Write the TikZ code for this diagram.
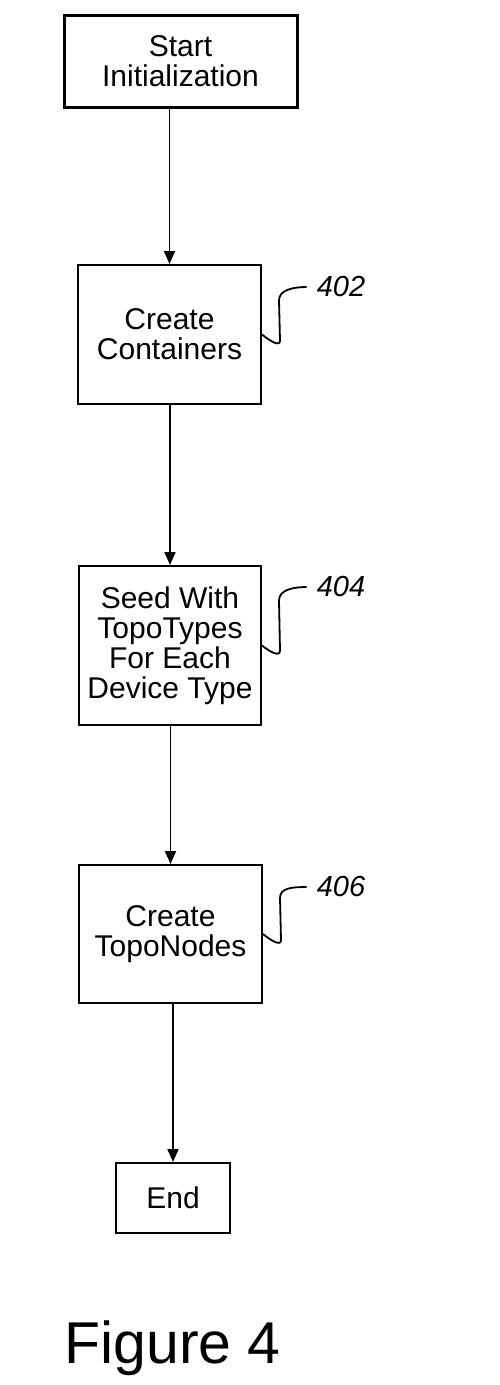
\documentclass[tikz,border=0pt]{standalone}
\usepackage{fontspec}
\setmainfont{Liberation Sans}
\usetikzlibrary{arrows.meta}
\begin{document}
\begin{tikzpicture}[x=1pt, y=-1pt,
  box/.style={draw, line width=2pt, inner sep=0pt, align=center, font=\fontsize{30}{30}\selectfont},
  flow/.style={line width=1.8pt, -{Triangle[length=13pt,width=11pt]}},
  ref/.style={inner sep=0pt, inner xsep=10pt, font=\fontsize{29}{30}\selectfont\itshape},
  squig/.style={line width=1.8pt}]
\useasboundingbox (0,0) rectangle (499,1385);
\node[box, line width=3pt, minimum width=233pt, minimum height=92pt] (start) at (180.5,61){Start\\Initialization};
\node[box, minimum width=183pt, minimum height=139pt] (cont) at (169.5,334.5){Create\\Containers};
\node[box, minimum width=182pt, minimum height=159pt] (seed) at (170,645.5){Seed With\\TopoTypes\\For Each\\Device Type};
\node[box, minimum width=183pt, minimum height=138pt] (topo) at (170.5,934){Create\\TopoNodes};
\node[box, minimum width=114pt, minimum height=70pt] (end) at (173,1198){End};
\node[ref] (l402) at (341,287){402};
\node[ref] (l404) at (341,587){404};
\node[ref] (l406) at (341,887){406};
\node[anchor=base, font=\fontsize{59}{60}\selectfont] (fig) at (172.5,1363){Figure 4};
\draw[flow](cont.north |- start.south) -- (cont.north);
\draw[flow](seed.north |- cont.south) -- (seed.north);
\draw[flow](topo.north |- seed.south) -- (topo.north);
\draw[flow](end.north |- topo.south) -- (end.north);
\draw[squig](cont.east) .. controls +(10,8) and +(0,6) .. ++(18,6) -- ++(-1,-40) .. controls +(0,-10) and +(-15,0) .. (l402.west);
\draw[squig](seed.east) .. controls +(10,8) and +(0,6) .. ++(18,5) -- ++(-1,-50) .. controls +(0,-10) and +(-15,0) .. (l404.west);
\draw[squig](topo.east) .. controls +(10,8) and +(0,6) .. ++(18,6) -- ++(-1,-42) .. controls +(0,-10) and +(-15,0) .. (l406.west);
\end{tikzpicture}
\end{document}
